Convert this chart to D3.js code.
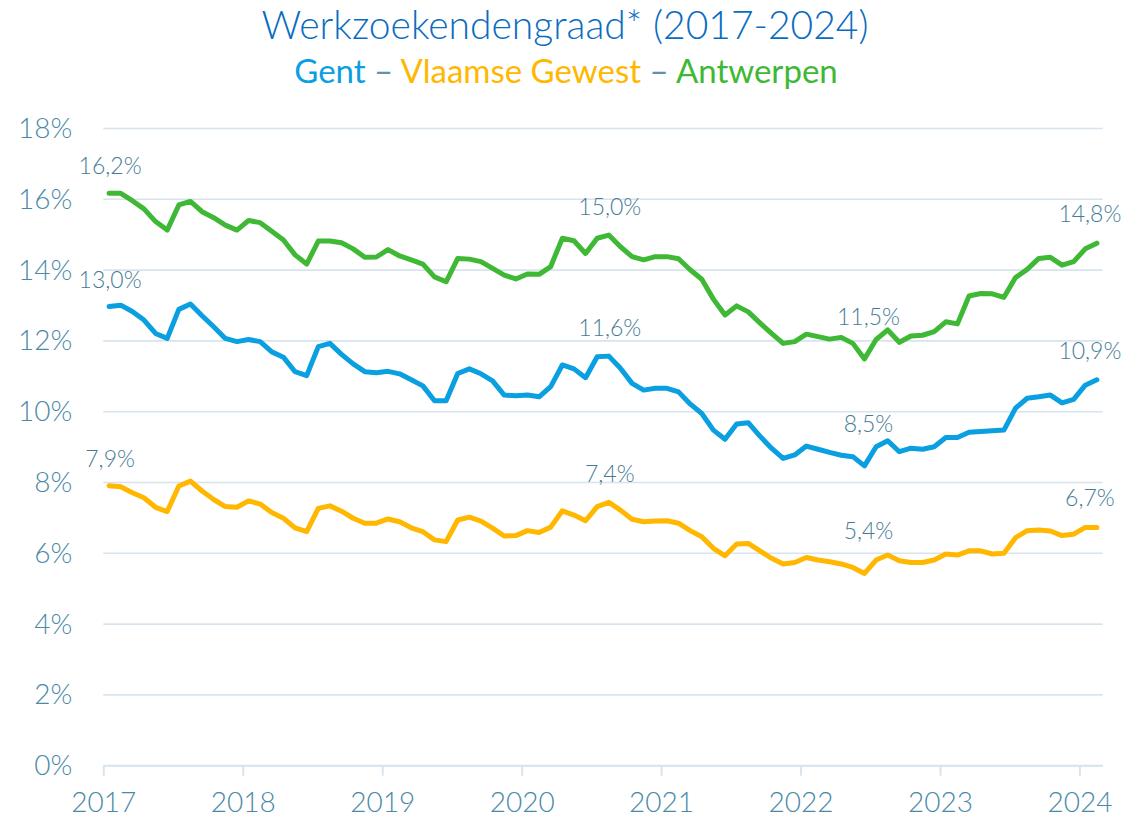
<!DOCTYPE html>
<html>
<head>
<meta charset="utf-8">
<script src="https://cdn.jsdelivr.net/npm/d3@7"></script>
<style>
  body { margin: 0; background: #fff; }
  text { font-family: Lato, "Open Sans", sans-serif; }
</style>
</head>
<body>
<div id="chart"></div>
<script>
// ======================================
// Data
// ======================================
var years = ["2017", "2018", "2019", "2020", "2021", "2022", "2023", "2024"];

// one value per month, Jan 2017 - Feb 2024
var months = d3.timeMonths(new Date(2017, 0, 1), new Date(2024, 2, 1));

var gent = [
  12.97, 13.01, 12.83, 12.59, 12.21, 12.07, 12.89, 13.04, 12.71, 12.40, 12.07, 11.98,
  12.04, 11.98, 11.69, 11.54, 11.13, 11.02, 11.84, 11.93, 11.62, 11.35, 11.13, 11.10,
  11.14, 11.07, 10.90, 10.73, 10.31, 10.31, 11.08, 11.21, 11.07, 10.87, 10.47, 10.45,
  10.47, 10.42, 10.71, 11.32, 11.21, 10.96, 11.55, 11.57, 11.23, 10.80, 10.61, 10.66,
  10.66, 10.56, 10.22, 9.95, 9.48, 9.22, 9.65, 9.69, 9.31, 8.97, 8.68, 8.78,
  9.03, 8.94, 8.85, 8.77, 8.73, 8.47, 9.01, 9.18, 8.87, 8.97, 8.94, 9.01,
  9.27, 9.27, 9.42, 9.44, 9.46, 9.48, 10.10, 10.38, 10.42, 10.47, 10.25, 10.35,
  10.75, 10.90
];

var vlaams = [
  7.91, 7.88, 7.71, 7.57, 7.30, 7.18, 7.90, 8.04, 7.76, 7.52, 7.32, 7.30,
  7.48, 7.39, 7.15, 6.99, 6.72, 6.61, 7.27, 7.34, 7.19, 6.99, 6.85, 6.85,
  6.97, 6.89, 6.72, 6.61, 6.38, 6.33, 6.94, 7.02, 6.91, 6.71, 6.49, 6.50,
  6.64, 6.59, 6.74, 7.20, 7.08, 6.92, 7.32, 7.44, 7.22, 6.96, 6.89, 6.91,
  6.92, 6.85, 6.64, 6.47, 6.14, 5.93, 6.26, 6.28, 6.07, 5.86, 5.70, 5.74,
  5.88, 5.81, 5.76, 5.70, 5.60, 5.43, 5.81, 5.95, 5.79, 5.74, 5.74, 5.81,
  5.98, 5.95, 6.07, 6.07, 5.98, 6.00, 6.44, 6.64, 6.66, 6.63, 6.50, 6.54,
  6.73, 6.73
];

var antwerpen = [
  16.17, 16.17, 15.96, 15.73, 15.37, 15.13, 15.84, 15.94, 15.65, 15.48, 15.27, 15.13,
  15.40, 15.34, 15.10, 14.85, 14.43, 14.17, 14.82, 14.82, 14.77, 14.60, 14.36, 14.37,
  14.58, 14.40, 14.29, 14.17, 13.81, 13.67, 14.33, 14.31, 14.24, 14.05, 13.86, 13.75,
  13.89, 13.88, 14.10, 14.90, 14.83, 14.47, 14.90, 14.99, 14.66, 14.38, 14.29, 14.38,
  14.38, 14.32, 14.01, 13.74, 13.18, 12.73, 12.99, 12.82, 12.51, 12.21, 11.93, 11.98,
  12.19, 12.12, 12.05, 12.10, 11.93, 11.49, 12.04, 12.31, 11.96, 12.14, 12.16, 12.26,
  12.54, 12.48, 13.27, 13.34, 13.33, 13.23, 13.79, 14.02, 14.33, 14.36, 14.14, 14.24,
  14.60, 14.76
];

// months that get a data label
var labelMonths = [0, 43, 65, 85];

// ======================================
// Setup
// ======================================
var svgWidth = 1137;
var svgHeight = 820;

var plot = { left: 103.3, right: 1102.7, top: 128.5, bottom: 765.7 };

var colors = {
  gent: "#0a9fe0",
  vlaams: "#ffb700",
  antwerpen: "#3eb835",
  title: "#0a6cc0",
  dash: "#5f93ad",
  axisText: "#4a8aa7",
  labelText: "#457b95",
  grid: "#d7e4ed"
};

var series = [
  { key: "antwerpen", values: antwerpen, color: colors.antwerpen },
  { key: "gent", values: gent, color: colors.gent },
  { key: "vlaams", values: vlaams, color: colors.vlaams }
];

var svg = d3.select("#chart")
  .append("svg")
  .attr("width", svgWidth)
  .attr("height", svgHeight);

// month index scale: category i sits in [i, i+1]
var x = d3.scaleLinear()
  .domain([0, months.length])
  .range([plot.left, plot.right]);

var y = d3.scaleLinear()
  .domain([0, 18])
  .range([plot.bottom, plot.top]);

// ======================================
// Titles
// ======================================
svg.append("text")
  .attr("x", 565)
  .attr("y", 39)
  .attr("text-anchor", "middle")
  .attr("font-size", 39)
  .attr("font-weight", 300)
  .attr("fill", colors.title)
  .text("Werkzoekendengraad* (2017-2024)");

var sub = svg.append("text")
  .attr("x", 566)
  .attr("y", 83)
  .attr("text-anchor", "middle")
  .attr("font-size", 33)
  .attr("font-weight", 400);

sub.append("tspan").attr("fill", colors.gent).text("Gent");
sub.append("tspan").attr("fill", colors.dash).text(" \u2013 ");
sub.append("tspan").attr("fill", colors.vlaams).text("Vlaamse Gewest");
sub.append("tspan").attr("fill", colors.dash).text(" \u2013 ");
sub.append("tspan").attr("fill", colors.antwerpen).text("Antwerpen");

// ======================================
// Grid and axes
// ======================================
var yTicks = d3.range(0, 19, 2);

svg.append("g")
  .selectAll("line")
  .data(yTicks)
  .enter()
  .append("line")
  .attr("x1", plot.left)
  .attr("x2", plot.right)
  .attr("y1", d => y(d))
  .attr("y2", d => y(d))
  .attr("stroke", colors.grid)
  .attr("stroke-width", 1.6);

var leftAxis = d3.axisLeft(y)
  .tickValues(yTicks)
  .tickSize(0)
  .tickPadding(31)
  .tickFormat(d => d + "%");

svg.append("g")
  .attr("transform", `translate(${plot.left}, 0)`)
  .call(leftAxis)
  .call(g => g.select(".domain").remove())
  .selectAll("text")
  .attr("font-family", "Lato, sans-serif")
  .attr("font-size", 28)
  .attr("font-weight", 300)
  .attr("fill", colors.axisText);

var bottomAxis = d3.axisBottom(x)
  .tickValues(years.map((d, i) => i * 12))
  .tickSize(10)
  .tickPadding(16)
  .tickFormat((d, i) => years[i]);

svg.append("g")
  .attr("transform", `translate(0, ${plot.bottom})`)
  .call(bottomAxis)
  .call(g => g.select(".domain").attr("stroke", colors.grid).attr("stroke-width", 2)
    .attr("d", `M${plot.left},0H${plot.right}`))
  .call(g => g.selectAll(".tick line").attr("stroke", colors.grid).attr("stroke-width", 2))
  .selectAll("text")
  .attr("font-family", "Lato, sans-serif")
  .attr("font-size", 28)
  .attr("font-weight", 300)
  .attr("fill", colors.axisText);

// ======================================
// Lines
// ======================================
var line = d3.line()
  .x((d, i) => x(i + 0.5))
  .y(d => y(d));

svg.append("g")
  .selectAll("path")
  .data(series)
  .enter()
  .append("path")
  .attr("d", d => line(d.values))
  .attr("fill", "none")
  .attr("stroke", d => d.color)
  .attr("stroke-width", 5)
  .attr("stroke-linejoin", "round")
  .attr("stroke-linecap", "round");

// ======================================
// Data labels
// ======================================
var fmt = v => d3.format(".1f")(v).replace(".", ",") + "%";

// vertical lift of the label above its point, per labelled month
var labelLift = { 0: 28, 43: 29, 65: 43, 85: 30 };
var labelShift = { 0: 1, 43: 1, 65: 4, 85: -7 };

series.forEach(s => {
  svg.append("g")
    .selectAll("text")
    .data(labelMonths)
    .enter()
    .append("text")
    .attr("x", i => x(i + 0.5) + labelShift[i])
    .attr("y", i => y(s.values[i]) - labelLift[i])
    .attr("text-anchor", "middle")
    .attr("dominant-baseline", "central")
    .attr("font-size", 23)
    .attr("font-weight", 300)
    .attr("fill", colors.labelText)
    .text(i => fmt(s.values[i]));
});
</script>
</body>
</html>
